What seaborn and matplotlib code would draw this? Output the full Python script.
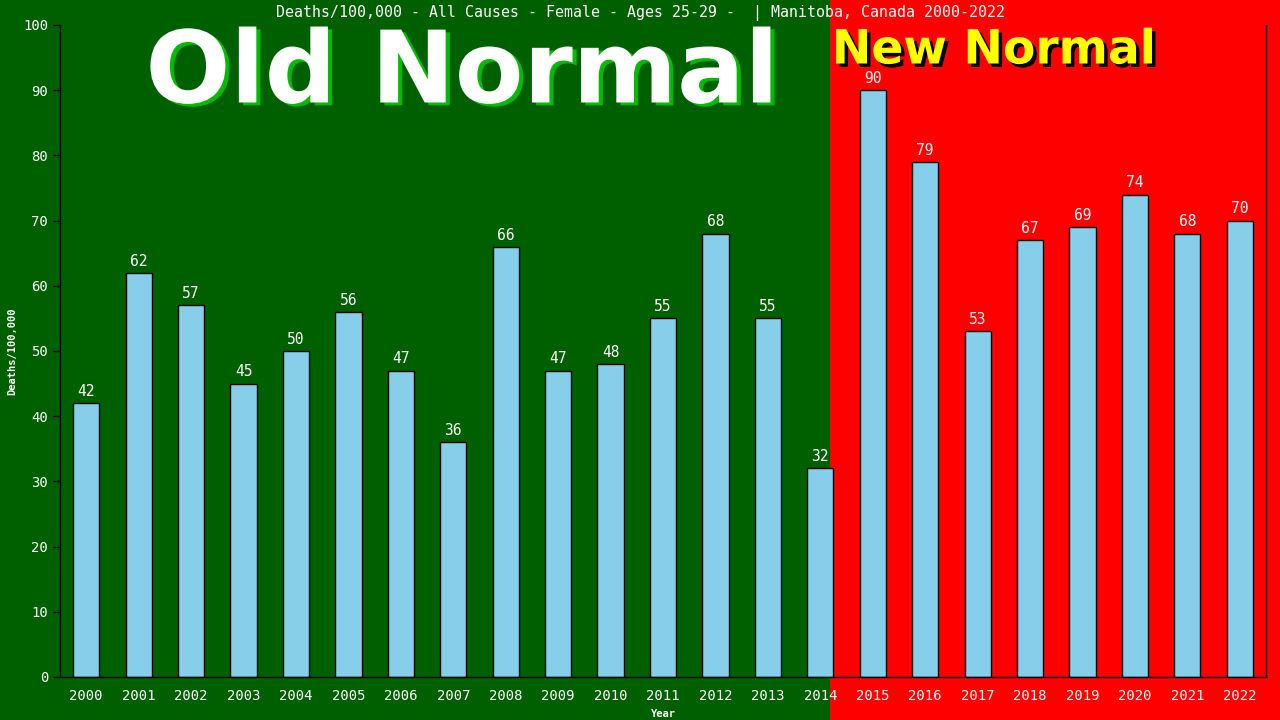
import matplotlib
matplotlib.use("Agg")
import matplotlib.pyplot as plt
import matplotlib.patheffects as pe
from matplotlib.patches import Rectangle
import seaborn as sns
import pandas as pd

years = [str(y) for y in range(2000, 2023)]
deaths = [42, 62, 57, 45, 50, 56, 47, 36, 66, 47, 48, 55, 68, 55, 32,
          90, 79, 53, 67, 69, 74, 68, 70]
title = "Deaths/100,000 - All Causes - Female - Ages 25-29 -  | Manitoba, Canada 2000-2022"
yticks = list(range(0, 101, 10))

GREEN = "#006000"
RED = "#ff0000"
BAR = "#87ceeb"

sns.set_theme(style="white")
plt.rcParams['font.family'] = ['DejaVu Sans Mono', 'DejaVu Sans']

fig = plt.figure(figsize=(12.8, 7.2), dpi=100, facecolor=GREEN)
fig.patches.append(Rectangle((830 / 1280, 0), 1 - 830 / 1280, 1, transform=fig.transFigure,
                             facecolor=RED, edgecolor="none", zorder=-10))
ax = fig.add_axes([60 / 1280, 43 / 720, 1206 / 1280, 652 / 720])
ax.set_zorder(5)
ax.set_facecolor("none")
ax.patch.set_alpha(0)

df = pd.DataFrame({"Year": years, "Deaths": deaths})
sns.barplot(data=df, x="Year", y="Deaths", color=BAR, width=0.5,
            edgecolor="black", linewidth=1.0, saturation=1, ax=ax)

for c in ax.containers:
    ax.bar_label(c, labels=[str(v) for v in deaths], padding=3, color="white",
                 fontsize=10.5)

ax.set_ylim(0, 100)
ax.set_xlim(-0.5, len(years) - 0.5)
ax.set_yticks(yticks)
ax.tick_params(axis="both", colors="black", labelcolor="white", labelsize=10,
               length=5, width=1, direction="out", left=True, bottom=False)
ax.tick_params(axis="x", pad=4)
for s in ["left", "bottom", "right"]:
    ax.spines[s].set_color("black")
    ax.spines[s].set_linewidth(1)
    ax.spines[s].set_visible(True)
ax.spines["top"].set_visible(False)
ax.grid(False)

ax.set_xlabel("Year", color="white", fontsize=7.5, fontweight="bold", labelpad=4)
ax.set_ylabel("Deaths/100,000", color="white", fontsize=7.5, fontweight="bold", labelpad=4)

fig.text(640 / 1280, 1 - 13 / 720, title, color="white", fontsize=10.7,
         ha="center", va="center", zorder=10)

fig.text(462 / 1280, 1 - 75 / 720, "Old Normal", color="white", fontsize=72,
         fontweight="bold", family="DejaVu Sans", ha="center", va="center", zorder=10,
         path_effects=[pe.withSimplePatchShadow(offset=(3, -2), shadow_rgbFace="#00bb00", alpha=1)])
fig.text(994 / 1280, 1 - 51 / 720, "New Normal", color="yellow", fontsize=34,
         fontweight="bold", family="DejaVu Sans", ha="center", va="center", zorder=10,
         path_effects=[pe.withSimplePatchShadow(offset=(2.5, -2.5), shadow_rgbFace="black", alpha=1)])

fig.savefig("out.png", dpi=100, facecolor=fig.get_facecolor())
